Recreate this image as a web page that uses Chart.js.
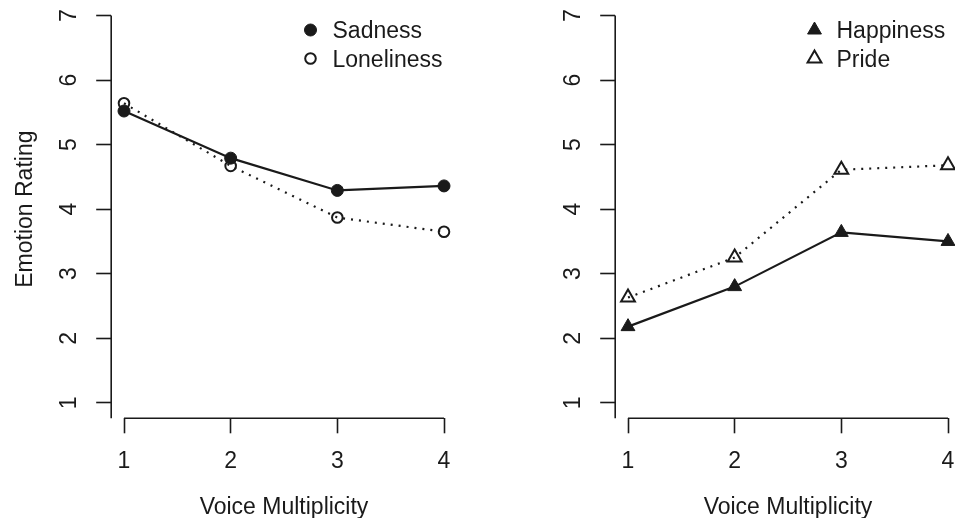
<!DOCTYPE html>
<html>
<head>
<meta charset="utf-8">
<script src="https://cdn.jsdelivr.net/npm/chart.js@4.4.1/dist/chart.umd.min.js"></script>
<style>
  html, body { margin: 0; padding: 0; background: #fff; overflow: hidden; }
  #wrap { position: relative; width: 955px; height: 518px; overflow: hidden; }
  canvas { position: absolute; top: 0; }
</style>
</head>
<body>
<div id="wrap">
  <canvas id="left" width="504" height="518" style="left:0"></canvas>
  <canvas id="right" width="504" height="518" style="left:504px"></canvas>
</div>
<script>
const voiceLevels = [1, 2, 3, 4];
const sadness     = [5.52, 4.79, 4.29, 4.36];
const loneliness  = [5.64, 4.67, 3.87, 3.65];
const happiness   = [2.18, 2.80, 3.64, 3.50];
const pride       = [2.63, 3.25, 4.61, 4.68];
const xTicks = [1, 2, 3, 4];
const yTicks = [1, 2, 3, 4, 5, 6, 7];

const ink = '#1a1a1a';
const FONT = '"Liberation Sans", Arial, sans-serif';
const FS = 23;

function pts(vals) {
  return voiceLevels.map((v, i) => ({ x: v, y: vals[i] }));
}

// R-like axis lines, rotated y labels, titles and legend, placed with the chart's scales
const rStyle = {
  id: 'rStyle',
  afterDraw(chart, args, opts) {
    const ctx = chart.ctx, xs = chart.scales.x, ys = chart.scales.y, area = chart.chartArea;
    ctx.save();
    ctx.strokeStyle = ink;
    ctx.lineWidth = 1.6;
    ctx.setLineDash([]);
    ctx.beginPath();
    ctx.moveTo(area.left, ys.getPixelForValue(yTicks[yTicks.length - 1]));
    ctx.lineTo(area.left, area.bottom);
    ctx.moveTo(xs.getPixelForValue(xTicks[0]), area.bottom);
    ctx.lineTo(xs.getPixelForValue(xTicks[xTicks.length - 1]), area.bottom);
    ctx.stroke();

    ctx.fillStyle = ink;
    ctx.font = FS + 'px ' + FONT;
    ctx.textAlign = 'center';
    ctx.textBaseline = 'alphabetic';
    yTicks.forEach(v => {
      ctx.save();
      ctx.translate(76, ys.getPixelForValue(v));
      ctx.rotate(-Math.PI / 2);
      ctx.fillText(String(v), 0, 0);
      ctx.restore();
    });

    ctx.fillText('Voice Multiplicity', (area.left + area.right) / 2, 514);
    if (opts.yTitle) {
      ctx.save();
      ctx.translate(31.5, (area.top + area.bottom) / 2);
      ctx.rotate(-Math.PI / 2);
      ctx.fillText(opts.yTitle, 0, 0);
      ctx.restore();
    }

    // legend
    chart.data.datasets.forEach((ds, i) => {
      const ly = 30 + i * 28.5;
      ctx.fillStyle = ds.pointBackgroundColor;
      ctx.strokeStyle = ds.pointBorderColor;
      ctx.lineWidth = ds.pointBorderWidth;
      Chart.helpers.drawPoint(ctx, {
        pointStyle: ds.pointStyle, radius: ds.pointRadius,
        borderWidth: ds.pointBorderWidth, rotation: 0
      }, 310.5, ly);
      ctx.fillStyle = ink;
      ctx.textAlign = 'left';
      ctx.fillText(ds.label, 332.5, ly + 8.3);
    });
    ctx.restore();
  }
};

function series(label, vals, filled, style, dotted) {
  return {
    label: label,
    data: pts(vals),
    borderColor: ink,
    borderWidth: 2.2,
    borderDash: dotted ? [2, 6] : [],
    tension: 0,
    pointStyle: style,
    pointRadius: style === 'triangle' ? 8 : (filled ? 6 : 5.3),
    pointBackgroundColor: filled ? ink : 'rgba(0,0,0,0)',
    pointBorderColor: ink,
    pointBorderWidth: filled ? 1 : 2,
    clip: false
  };
}

function makePanel(id, datasets, yTitle) {
  return new Chart(document.getElementById(id), {
    type: 'line',
    data: { datasets: datasets },
    options: {
      responsive: false,
      animation: false,
      events: [],
      layout: { autoPadding: false, padding: { top: 0, left: 0, right: 47.2, bottom: 0 } },
      plugins: { legend: { display: false }, tooltip: { enabled: false }, rStyle: { yTitle: yTitle } },
      scales: {
        x: {
          type: 'linear', min: 0.88, max: 4.12,
          afterBuildTicks: s => { s.ticks = xTicks.map(v => ({ value: v })); },
          afterFit: s => { s.height = 99.7; },
          grid: { drawOnChartArea: false, tickLength: 15, tickWidth: 1.6, tickColor: ink },
          border: { display: false },
          ticks: { color: ink, font: { family: FONT, size: FS }, padding: 15, maxRotation: 0, autoSkip: false }
        },
        y: {
          type: 'linear', min: 0.76, max: 7.24,
          afterBuildTicks: s => { s.ticks = yTicks.map(v => ({ value: v })); },
          afterFit: s => { s.width = 111.2; },
          grid: { drawOnChartArea: false, tickLength: 15, tickWidth: 1.6, tickColor: ink },
          border: { display: false },
          ticks: { display: false }
        }
      }
    },
    plugins: [rStyle]
  });
}

makePanel('left', [
  series('Sadness', sadness, true, 'circle', false),
  series('Loneliness', loneliness, false, 'circle', true)
], 'Emotion Rating');

makePanel('right', [
  series('Happiness', happiness, true, 'triangle', false),
  series('Pride', pride, false, 'triangle', true)
], null);
</script>
</body>
</html>
